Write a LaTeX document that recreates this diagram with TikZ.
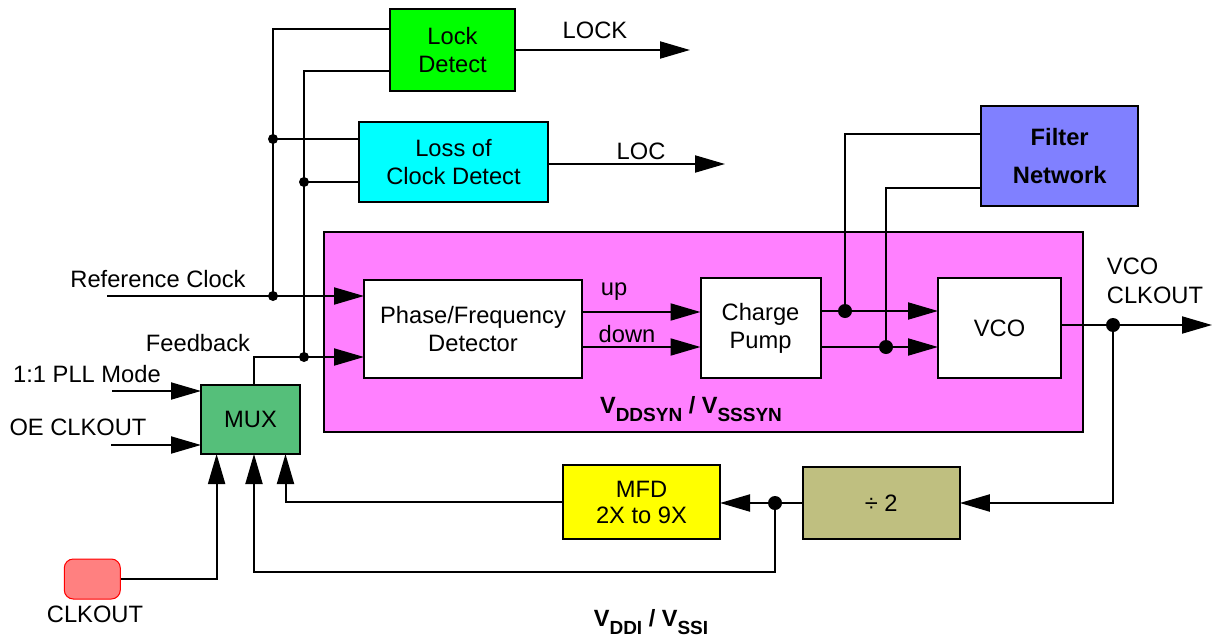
\documentclass[tikz,border=0pt]{standalone}
\usepackage{fontspec}
\setmainfont{Liberation Sans}
\usetikzlibrary{arrows.meta}
\definecolor{lockgreen}{RGB}{0,255,0}
\definecolor{loccyan}{RGB}{0,255,255}
\definecolor{pinkbg}{RGB}{255,128,255}
\definecolor{filterblue}{RGB}{128,128,255}
\definecolor{muxgreen}{RGB}{85,191,122}
\definecolor{mfdyellow}{RGB}{255,255,0}
\definecolor{divolive}{RGB}{191,191,128}
\definecolor{clkred}{RGB}{255,128,128}
\newcommand\vsubs[1]{\raisebox{-0.32em}{\fontsize{19}{19}\selectfont #1}}
\begin{document}
\begin{tikzpicture}[x=1pt,y=-1pt,
  box/.style={draw=black, line width=2pt, inner sep=0pt, outer sep=0pt, align=center, font=\fontsize{23.7}{28}\selectfont},
  wire/.style={line width=2pt},
  arr/.style={wire, -{Triangle[length=30pt,width=17pt]}},
  sdot/.style={circle, fill=black, inner sep=0pt, minimum size=10pt},
  bdot/.style={circle, fill=black, inner sep=0pt, minimum size=14pt},
  lbl/.style={inner sep=0pt, font=\fontsize{23.7}{28}\selectfont, align=center}]
\useasboundingbox (0,0) rectangle (1213,640);

% synthesizer region
\node[box, fill=pinkbg, minimum width=759pt, minimum height=200pt] (syn) at (703.5,332) {};

% blocks
\node[box, fill=lockgreen, minimum width=125pt, minimum height=82pt] (lock) at (452.5,50) {Lock\\Detect};
\node[box, fill=loccyan, minimum width=189pt, minimum height=80pt] (loc) at (453.5,162) {Loss of\\Clock Detect};
\node[box, fill=white, minimum width=218pt, minimum height=98pt] (pfd) at (473,329) {Phase/Frequency\\Detector};
\node[box, fill=white, minimum width=120pt, minimum height=100pt] (cp) at (760.5,328) {Charge\\Pump};
\node[box, fill=white, minimum width=123pt, minimum height=100pt] (vco) at (999.5,328) {VCO};
\node[box, fill=filterblue, minimum width=157pt, minimum height=100pt, font=\bfseries\fontsize{23.7}{38}\selectfont] (filt) at (1059.7,156) {Filter\\Network};
\node[box, fill=muxgreen, minimum width=99pt, minimum height=69pt] (mux) at (250.5,419.5) {MUX};
\node[box, fill=mfdyellow, minimum width=157pt, minimum height=74pt, font=\fontsize{23.7}{26}\selectfont] (mfd) at (641.5,502) {MFD\\2X to 9X};
\node[box, fill=divolive, minimum width=157pt, minimum height=72pt] (div) at (881.3,503) {÷ 2};
\node[draw=red, line width=1pt, fill=clkred, rounded corners=9pt, minimum width=56pt, minimum height=40pt, inner sep=0pt] (clk) at (92.3,579) {};

% labels
\node[lbl] (tlock) at (595,30) {LOCK};
\node[lbl] (tloc) at (641,151) {LOC};
\node[lbl] (tref) at (158,279) {Reference Clock};
\node[lbl] (tfb) at (198,343) {Feedback};
\node[lbl] (tpll) at (87,374) {1:1 PLL Mode};
\node[lbl] (toe) at (78,427) {OE CLKOUT};
\node[lbl] (tclk) at (95,614) {CLKOUT};
\node[lbl] (tup) at (614,292) {up};
\node[lbl] (tdown) at (627,334) {down};
\node[lbl, align=left, font=\fontsize{23.7}{29}\selectfont] (tvco) at (1155,281) {VCO\\CLKOUT};
\node[lbl, font=\bfseries\fontsize{23.5}{26}\selectfont] (tsyn) at (691,409) {V\vsubs{DDSYN} / V\vsubs{SSSYN}};
\node[lbl, font=\bfseries\fontsize{23.5}{26}\selectfont] (tddi) at (651,622) {V\vsubs{DDI} / V\vsubs{SSI}};

% junctions
\coordinate (jr) at (273,296);
\coordinate (jl) at (273,139);
\coordinate (jf) at (304,357);
\coordinate (jl2) at (304,182);
\coordinate (refin) at (107,296);
\coordinate (jc1) at (845,311);
\coordinate (jc2) at (886,347);
\coordinate (jv) at (1113,325);
\coordinate (jd) at (775,503);
\coordinate (lockout) at (690,50);
\coordinate (locout) at (725,164);
\coordinate (vcoout) at (1212,325);
\coordinate (pllin) at (112,391);
\coordinate (oein) at (111,445);
\coordinate (muxo) at (254,385.2);

% wiring
\draw[wire] (lock.west |- 0,29) -| (jr);
\draw[wire] (lock.west |- 0,71) -| (jf);
\draw[wire] (jl) -- (loc.west |- jl);
\draw[wire] (jl2) -- (loc.west |- jl2);
\draw[arr] (refin) -- (pfd.west |- refin);
\draw[arr] (muxo) |- (pfd.west |- jf);
\draw[arr] (lock.east) -- (lockout);
\draw[arr] (loc.east |- locout) -- (locout);
\draw[arr] (pfd.east |- 0,312) -- (cp.west |- 0,312);
\draw[arr] (pfd.east |- 0,347) -- (cp.west |- 0,347);
\draw[arr] (cp.east |- jc1) -- (vco.west |- jc1);
\draw[arr] (cp.east |- jc2) -- (vco.west |- jc2);
\draw[wire] (filt.west |- 0,134) -| (jc1);
\draw[wire] (filt.west |- 0,188) -| (jc2);
\draw[arr] (vco.east |- jv) -- (vcoout);
\draw[arr] (jv) |- (div.east);
\draw[arr] (div.west) -- (mfd.east |- div.west);
\draw[arr] (jd) -- (jd |- 0,572) -| (mux.south -| 254,0);
\draw[arr] (mfd.west) -| (mux.south -| 285.5,0);
\draw[arr] (clk.east) -| (mux.south -| 216.6,0);
\draw[arr] (pllin) -- (mux.west |- pllin);
\draw[arr] (oein) -- (mux.west |- oein);

% dots
\node[sdot] at (jr) {};
\node[sdot] at (jl) {};
\node[sdot] at (jf) {};
\node[sdot] at (jl2) {};
\node[bdot] at (jc1) {};
\node[bdot] at (jc2) {};
\node[bdot] at (jv) {};
\node[bdot] at (jd) {};
\end{tikzpicture}
\end{document}
